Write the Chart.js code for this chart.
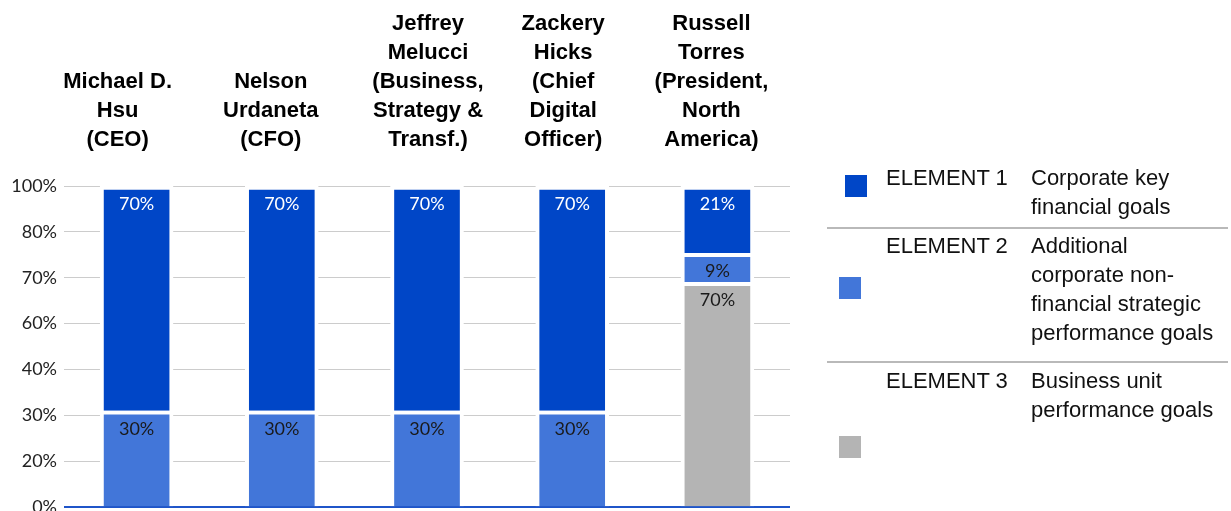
<!DOCTYPE html>
<html>
<head>
<meta charset="utf-8">
<script src="https://cdn.jsdelivr.net/npm/chart.js@4.4.1/dist/chart.umd.min.js"></script>
<style>
  html, body { margin: 0; padding: 0; background: #fff; }
  #wrap { position: relative; width: 1231px; height: 511px; overflow: hidden; }
  #chart { position: absolute; left: 0; top: 0; }
  .legend { position: absolute; left: 0; top: 0; width: 1231px; height: 511px; pointer-events: none;
    font-family: "Liberation Sans", Arial, sans-serif; font-size: 22px; line-height: 29px; color: #111; }
  .legend .swatch { position: absolute; width: 22px; height: 22px; }
  .legend .name { position: absolute; left: 886px; white-space: nowrap; }
  .legend .desc { position: absolute; left: 1031px; white-space: nowrap; }
  .legend .rule { position: absolute; left: 827px; width: 401px; height: 2px; background: #b9b9b9; }
</style>
</head>
<body>
<div id="wrap">
  <canvas id="chart" width="1231" height="525"></canvas>
  <div class="legend" id="legend"></div>
</div>
<script>
// Executives (multi-line headers above each bar)
const executives = [
  ["Michael D.", "Hsu", "(CEO)"],
  ["Nelson", "Urdaneta", "(CFO)"],
  ["Jeffrey", "Melucci", "(Business,", "Strategy &", "Transf.)"],
  ["Zackery", "Hicks", "(Chief", "Digital", "Officer)"],
  ["Russell", "Torres", "(President,", "North", "America)"]
]

// Weight of each element in the incentive, percent
const element1 = [70, 70, 70, 70, 21]
const element2 = [30, 30, 30, 30, 9]
const element3 = [null, null, null, null, 70]

// Axis tick labels (evenly spaced lines)
const yTickLabels = ["0%", "20%", "30%", "40%", "60%", "70%", "80%", "100%"]

const elementNames = ["ELEMENT 1", "ELEMENT 2", "ELEMENT 3"]
const elementDescriptions = [
  ["Corporate key", "financial goals"],
  ["Additional", "corporate non-", "financial strategic", "performance goals"],
  ["Business unit", "performance goals"]
]

const colors = {
  element1: "#0046c7",
  element2: "#4276d9",
  element3: "#b4b4b4",
}

// Percentage label at the top of each bar segment
const segmentLabels = {
  id: "segmentLabels",
  afterDatasetsDraw(chart) {
    const ctx = chart.ctx
    ctx.save()
    ctx.font = '18px Lato, "Open Sans", sans-serif'
    ctx.textAlign = "center"
    ctx.textBaseline = "middle"
    chart.data.datasets.forEach((ds, i) => {
      const meta = chart.getDatasetMeta(i)
      meta.data.forEach((bar, j) => {
        const v = ds.data[j]
        if (v === null || v === undefined) return
        ctx.fillStyle = ds.labelColor
        ctx.fillText(v + "%", bar.x, bar.y + 18)
      })
    })
    ctx.restore()
  },
}

// Bold column headers, bottom-aligned above the plot; header text sits a little
// off the bar centre in some columns
const headerNudge = [-19, -11, 1, -9, -6]
const columnHeaders = {
  id: "columnHeaders",
  afterDraw(chart) {
    const ctx = chart.ctx
    const xScale = chart.scales.x
    const lineHeight = 29
    const lastLineY = 140
    ctx.save()
    ctx.font = 'bold 22px "Liberation Sans", Arial, sans-serif'
    ctx.fillStyle = "#000000"
    ctx.textAlign = "center"
    ctx.textBaseline = "middle"
    chart.data.labels.forEach((lines, i) => {
      const x = xScale.getPixelForValue(i) + headerNudge[i]
      lines.forEach((line, k) => {
        ctx.fillText(line, x, lastLineY - (lines.length - 1 - k) * lineHeight)
      })
    })
    ctx.restore()
  },
}

const barStyle = {
  borderColor: "#ffffff",
  borderWidth: { top: 4, left: 4, right: 4, bottom: 0 },
  borderSkipped: false,
  barThickness: 73,
}

const ctx = document.getElementById("chart").getContext("2d")
new Chart(ctx, {
  type: "bar",
  data: {
    labels: executives,
    datasets: [
      { label: elementNames[2], data: element3, backgroundColor: colors.element3, labelColor: "#1a1a1a", ...barStyle },
      { label: elementNames[1], data: element2, backgroundColor: colors.element2, labelColor: "#1a1a1a", ...barStyle },
      { label: elementNames[0], data: element1, backgroundColor: colors.element1, labelColor: "#ffffff", ...barStyle },
    ],
  },
  options: {
    responsive: false,
    animation: false,
    layout: {
      padding: { left: 0, right: 441, top: 0, bottom: 4 },
    },
    plugins: {
      legend: { display: false },
      tooltip: { enabled: false },
    },
    scales: {
      x: {
        position: "top",
        stacked: true,
        grid: { display: false, drawTicks: false },
        border: { display: false },
        ticks: { display: false },
        afterFit(scale) {
          scale.height = 186
        },
      },
      y: {
        stacked: true,
        min: 0,
        max: 100,
        border: { display: false },
        grid: {
          drawTicks: false,
          color: (c) => (c.index === 0 ? "#1f55c9" : "#cccccc"),
          lineWidth: (c) => (c.index === 0 ? 2 : 1),
        },
        afterBuildTicks(scale) {
          scale.ticks = yTickLabels.map((_, i) => ({ value: (i * 100) / (yTickLabels.length - 1) }))
        },
        ticks: {
          padding: 7,
          color: "#222222",
          font: { family: 'Lato, "Open Sans", sans-serif', size: 18 },
          callback: (value, index) => yTickLabels[index],
        },
        afterFit(scale) {
          scale.width = 64
        },
      },
    },
  },
  plugins: [segmentLabels, columnHeaders],
})

// Legend panel on the right
const legend = document.getElementById("legend")
const rows = [
  { top: 163, swatch: { left: 845, top: 175 }, color: colors.element1 },
  { top: 231, swatch: { left: 839, top: 277 }, color: colors.element2 },
  { top: 366, swatch: { left: 839, top: 436 }, color: colors.element3 },
]
rows.forEach((row, i) => {
  const sw = document.createElement("div")
  sw.className = "swatch"
  sw.style.left = row.swatch.left + "px"
  sw.style.top = row.swatch.top + "px"
  sw.style.background = row.color
  legend.appendChild(sw)

  const name = document.createElement("div")
  name.className = "name"
  name.style.top = row.top + "px"
  name.textContent = elementNames[i]
  legend.appendChild(name)

  const desc = document.createElement("div")
  desc.className = "desc"
  desc.style.top = row.top + "px"
  desc.innerHTML = elementDescriptions[i].join("<br>")
  legend.appendChild(desc)
})
;[227, 361].forEach((y) => {
  const rule = document.createElement("div")
  rule.className = "rule"
  rule.style.top = y + "px"
  legend.appendChild(rule)
})
</script>
</body>
</html>
